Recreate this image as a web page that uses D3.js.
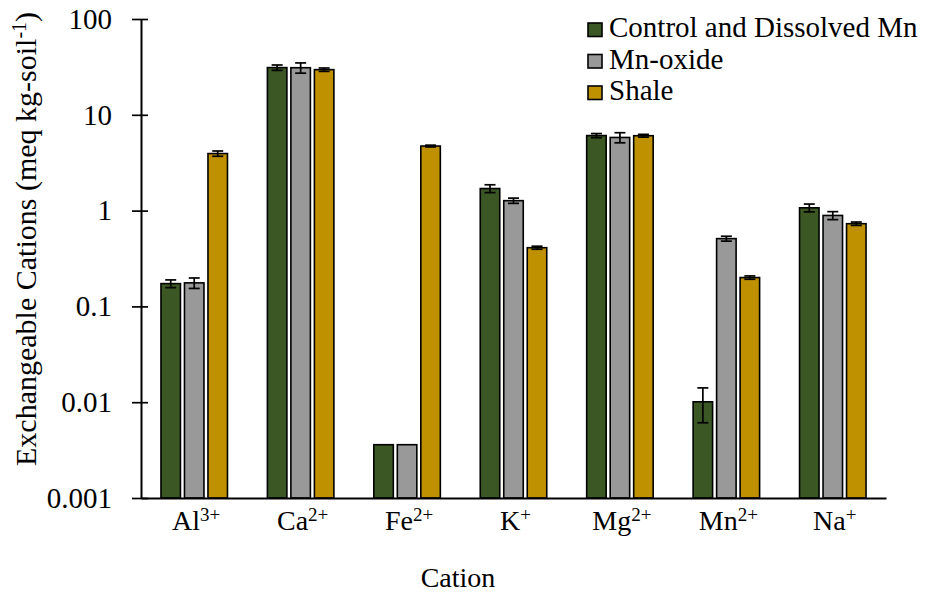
<!DOCTYPE html>
<html>
<head>
<meta charset="utf-8">
<script src="https://cdn.jsdelivr.net/npm/d3@7"></script>
</head>
<body style="margin:0;background:#fff">
<svg id="chart" width="926" height="595"></svg>
<script>
// Exchangeable cations by treatment (meq per kg soil), with error bars
const cations = ["Al", "Ca", "Fe", "K", "Mg", "Mn", "Na"];
const charges = ["3+", "2+", "2+", "+", "2+", "2+", "+"];
const seriesNames = ["Control and Dissolved Mn", "Mn-oxide", "Shale"];
const seriesColors = ["#3a5724", "#999999", "#bf9000"];

const controlVals = [0.173, 31.1, 0.0036, 1.70, 6.07, 0.0101, 1.07];
const controlErr  = [0.016, 2.0, 0, 0.16, 0.3, 0.004, 0.1];
const oxideVals   = [0.176, 31.0, 0.0036, 1.27, 5.8, 0.51, 0.89];
const oxideErr    = [0.022, 3.8, 0, 0.08, 0.7, 0.03, 0.085];
const shaleVals   = [3.94, 29.6, 4.72, 0.41, 6.05, 0.20, 0.73];
const shaleErr    = [0.25, 1.2, 0.1, 0.015, 0.2, 0.008, 0.03];

const yTicks = [0.001, 0.01, 0.1, 1, 10, 100];
const yTickLabels = ["0.001", "0.01", "0.1", "1", "10", "100"];

const seriesVals = [controlVals, oxideVals, shaleVals];
const seriesErrs = [controlErr, oxideErr, shaleErr];

const FONT = "Liberation Serif";
const svg = d3.select("#chart").attr("font-family", FONT);
const plotLeft = 141, plotRight = 886, plotTop = 19, plotBottom = 498;

const x = d3.scaleBand().domain(cations).range([plotLeft, plotRight]).paddingInner(0).paddingOuter(0);
const barW = 19.5, barGap = 4;
const groupW = 3 * barW + 2 * barGap;
const y = d3.scaleLog().domain([0.001, 100]).range([plotBottom, plotTop]);

const rows = [];
cations.forEach((c, i) => {
  seriesVals.forEach((vals, s) => {
    rows.push({ cat: c, s, v: vals[i], e: seriesErrs[s][i] });
  });
});
const barX = d => x(d.cat) + (x.bandwidth() - groupW) / 2 + d.s * (barW + barGap);

// bars
svg.append("g").selectAll("rect").data(rows).join("rect")
  .attr("x", barX)
  .attr("y", d => y(d.v))
  .attr("width", barW)
  .attr("height", d => y(0.001) - y(d.v))
  .attr("fill", d => seriesColors[d.s])
  .attr("stroke", "#000")
  .attr("stroke-width", 1.6);

// error bars
const eb = svg.append("g").attr("stroke", "#000").attr("stroke-width", 1.7);
rows.filter(d => d.e > 0).forEach(d => {
  const cx = barX(d) + barW / 2;
  const y1 = y(d.v + d.e), y0 = y(Math.max(d.v - d.e, 0.0011));
  eb.append("line").attr("x1", cx).attr("x2", cx).attr("y1", y1).attr("y2", y0);
  eb.append("line").attr("x1", cx - 5.5).attr("x2", cx + 5.5).attr("y1", y1).attr("y2", y1);
  eb.append("line").attr("x1", cx - 5.5).attr("x2", cx + 5.5).attr("y1", y0).attr("y2", y0);
});

// y axis with cross tick marks
const yAxis = d3.axisLeft(y).tickValues(yTicks)
  .tickFormat((d, i) => yTickLabels[i]).tickSize(0).tickPadding(29);
const yg = svg.append("g").attr("transform", `translate(${plotLeft},0)`).call(yAxis)
  .attr("font-family", FONT).attr("font-size", 29);
yg.select(".domain").attr("stroke", "#000").attr("stroke-width", 2);
yg.selectAll(".tick text").attr("fill", "#000").attr("font-family", FONT).attr("font-size", 29);
yg.selectAll(".tick").append("line")
  .attr("x1", -9).attr("x2", 7).attr("stroke", "#000").attr("stroke-width", 1.7);

// x axis
const xAxis = d3.axisBottom(x).tickSize(0).tickFormat("");
const xg = svg.append("g").attr("transform", `translate(0,${plotBottom})`).call(xAxis);
xg.select(".domain").attr("stroke", "#000").attr("stroke-width", 2.2);

// category labels with superscript charges
cations.forEach((c, i) => {
  const t = svg.append("text")
    .attr("x", x(c) + x.bandwidth() / 2 + 2)
    .attr("y", 530)
    .attr("text-anchor", "middle")
    .attr("font-family", FONT)
    .attr("font-size", 28)
    .attr("fill", "#000");
  t.append("tspan").text(c);
  t.append("tspan").attr("dy", -9).attr("font-size", 19).text(charges[i]);
});

// axis titles
svg.append("text")
  .attr("x", 458)
  .attr("y", 587)
  .attr("text-anchor", "middle")
  .attr("font-family", FONT)
  .attr("font-size", 28)
  .attr("fill", "#000")
  .text("Cation");

const yt = svg.append("text")
  .attr("transform", "translate(36,466) rotate(-90)")
  .attr("text-anchor", "start")
  .attr("font-family", FONT)
  .attr("font-size", 30)
  .attr("fill", "#000");
yt.append("tspan").text("Exchangeable Cations (meq kg-soil");
yt.append("tspan").attr("dy", -10).attr("font-size", 20).text("-1");
yt.append("tspan").attr("dy", 10).text(")");

// legend
const lg = svg.append("g");
seriesNames.forEach((name, i) => {
  const base = 37 + i * 31.5;
  lg.append("rect").attr("x", 588).attr("y", base - 14).attr("width", 14).attr("height", 13.5)
    .attr("fill", seriesColors[i]).attr("stroke", "#000").attr("stroke-width", 1.6);
  lg.append("text").attr("x", 609).attr("y", base)
    .attr("font-family", FONT).attr("font-size", 29)
    .attr("fill", "#000").text(name);
});
</script>
</body>
</html>
